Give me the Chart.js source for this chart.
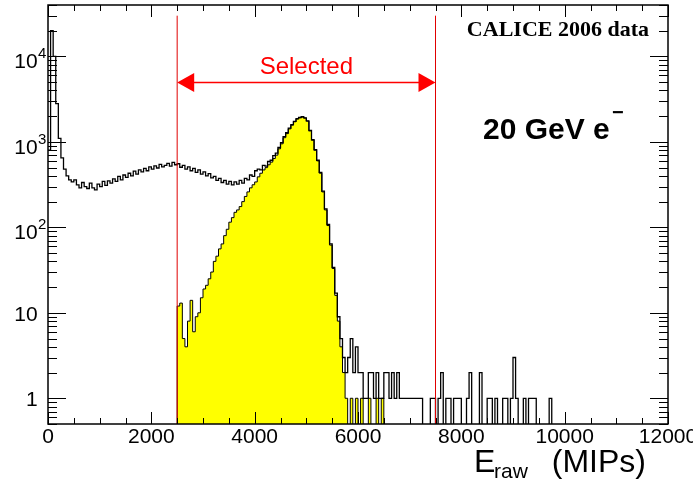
<!DOCTYPE html>
<html>
<head>
<meta charset="utf-8">
<script src="https://cdn.jsdelivr.net/npm/chart.js@4.4.0/dist/chart.umd.min.js"></script>
<style>
  html, body { margin:0; padding:0; background:#fff; }
  canvas { display:block; }
</style>
</head>
<body>
<canvas id="chart" width="693" height="485"></canvas>
<script>
// raw energy sum, 20 GeV electrons - all events vs selected (yellow)
const binWidth = 50;   // MIPs per bin, 0..12000

// all events, one entry per 50-MIP bin
const allCounts = [
  800,20000,10000,2800,1100,650,480,400,360,340,
  360,315,290,335,300,285,330,290,275,320,
  300,345,310,350,330,370,345,395,360,410,
  385,430,400,455,420,470,445,490,460,510,
  480,525,495,545,510,530,560,520,575,540,
  555,505,530,480,510,460,490,440,470,420,
  445,400,425,380,395,355,375,335,355,320,
  345,315,340,320,355,330,375,360,410,395,
  460,480,470,530,520,590,610,690,740,860,
  980,1150,1280,1450,1590,1740,1870,1930,1970,1910,
  1760,1360,1060,810,610,440,265,165,108,64,
  34,17,9,5,3,2,3,5,2,4,
  2,2,1,1,2,2,1,2,1,1,
  2,2,1,2,1,2,1,1,1,1,
  1,1,1,1,1,0,0,0,1,1,
  0,1,2,0,1,1,0,1,1,1,
  0,0,1,2,0,0,0,2,0,0,
  1,1,0,1,0,0,1,1,0,1,
  3,1,0,0,1,0,1,1,1,0,
  0,0,0,0,1,0,0,0,0,0
];

// selected events (2500 < E < 7500 plus electron cuts)
const selCounts = [
  0,0,0,0,0,0,0,0,0,0,
  0,0,0,0,0,0,0,0,0,0,
  0,0,0,0,0,0,0,0,0,0,
  0,0,0,0,0,0,0,0,0,0,
  0,0,0,0,0,0,0,0,0,0,
  12,13,5,4,8,14,6,9,10,15,
  19,21,25,30,40,46,56,64,80,95,
  115,130,150,160,175,200,230,260,290,315,
  340,390,430,470,500,540,580,640,700,830,
  950,1120,1250,1420,1570,1720,1850,1920,1960,1900,
  1750,1350,1050,800,600,430,260,160,105,62,
  33,16,8,4,2,1,0,1,0,1,
  0,1,0,0,1,0,0,1,0,1
];

const xTickValues = [0,2000,4000,6000,8000,10000,12000];
const yTickValues = [1,10,100,1000,10000];
const yTickBase = ['1','10','10','10','10'];
const yTickExp = ['','','2','3','4'];
const cuts = [2500,7500];
const cutTop = 30000;
const arrowLevel = 5000;

function histPoints(counts){
  const n = 240;
  const pts = [];
  for(let i=0;i<n;i++){
    const c = counts[i] || 0;
    pts.push({x:i*binWidth, y: c>0 ? c : 1e-3});
  }
  pts.push({x:n*binWidth, y:pts[n-1].y});
  return pts;
}

const sansFont = '"Liberation Sans", Arial, Helvetica, sans-serif';

const decor = {
  id:'decor',
  afterDatasetsDraw(chart){
    const {ctx, chartArea:a, scales:{x, y}} = chart;
    ctx.save();
    // arrow + label
    const ay = Math.round(y.getPixelForValue(arrowLevel)) + 0.5;
    const x1 = x.getPixelForValue(cuts[0]), x2 = x.getPixelForValue(cuts[1]);
    ctx.strokeStyle = '#ff0000'; ctx.fillStyle = '#ff0000'; ctx.lineWidth = 1.5;
    ctx.beginPath(); ctx.moveTo(x1+15, ay); ctx.lineTo(x2-15, ay); ctx.stroke();
    ctx.beginPath(); ctx.moveTo(x1, ay); ctx.lineTo(x1+17, ay-9.5); ctx.lineTo(x1+17, ay+9.5); ctx.closePath(); ctx.fill();
    ctx.beginPath(); ctx.moveTo(x2, ay); ctx.lineTo(x2-17, ay-9.5); ctx.lineTo(x2-17, ay+9.5); ctx.closePath(); ctx.fill();
    ctx.font = '24px ' + sansFont; ctx.textAlign = 'center'; ctx.textBaseline = 'alphabetic';
    ctx.fillText('Selected', (x1+x2)/2, ay-9);
    ctx.restore();
  },
  afterDraw(chart){
    const {ctx, chartArea:a, scales:{x, y}} = chart;
    ctx.save();
    ctx.strokeStyle = '#000'; ctx.fillStyle = '#000';
    // tick marks on all four sides
    ctx.lineWidth = 1;
    ctx.beginPath();
    for(let v=0; v<=12000; v+=500){
      const px = Math.round(x.getPixelForValue(v)) + 0.5;
      const len = v % 2000 === 0 ? 12 : 6;
      ctx.moveTo(px, a.bottom); ctx.lineTo(px, a.bottom-len);
      ctx.moveTo(px, a.top); ctx.lineTo(px, a.top+len);
    }
    for(let d=0.1; d<=10000; d*=10){
      for(let k=1;k<=9;k++){
        const v = d*k;
        if(v < y.min || v > y.max) continue;
        const py = Math.round(y.getPixelForValue(v)) + 0.5;
        const len = k === 1 ? 18 : 9;
        ctx.moveTo(a.left, py); ctx.lineTo(a.left+len, py);
        ctx.moveTo(a.right, py); ctx.lineTo(a.right-len, py);
      }
    }
    ctx.stroke();
    // frame
    ctx.lineWidth = 1.5;
    ctx.strokeRect(a.left, a.top, a.right-a.left, a.bottom-a.top);

    // x tick labels
    ctx.font = '21px ' + sansFont; ctx.textAlign = 'center'; ctx.textBaseline = 'alphabetic';
    xTickValues.forEach(v => ctx.fillText(String(v), x.getPixelForValue(v), a.bottom+19));

    // y tick labels
    yTickValues.forEach((v,i) => {
      const py = y.getPixelForValue(v);
      ctx.font = '21px ' + sansFont; ctx.textAlign = 'left';
      const base = yTickBase[i];
      const m = ctx.measureText(base);
      if(yTickExp[i]){
        ctx.fillText(base, 37 - m.actualBoundingBoxRight, py+12);
        ctx.font = '15px ' + sansFont;
        ctx.fillText(yTickExp[i], 38, py+2);
      } else {
        ctx.fillText(base, 37 - m.actualBoundingBoxRight, py+8);
      }
    });

    // x axis title: E_raw (MIPs)
    ctx.textAlign = 'left';
    ctx.font = '32px ' + sansFont;
    ctx.fillText('E', 474, 472);
    ctx.font = '21px ' + sansFont;
    ctx.fillText('raw', 494, 478);
    ctx.font = '32px ' + sansFont; ctx.textAlign = 'right';
    ctx.fillText('(MIPs)', 646, 472);

    // annotations
    ctx.font = 'bold 22px "Liberation Serif", "Times New Roman", serif'; ctx.textAlign = 'right';
    ctx.fillText('CALICE 2006 data', 649, 36);
    ctx.font = 'bold 30px ' + sansFont; ctx.textAlign = 'left';
    ctx.fillText('20 GeV e', 483, 139);
    ctx.font = 'bold 20px ' + sansFont;
    ctx.fillText('\u2212', 612, 119);
    ctx.restore();
  }
};

const ctx = document.getElementById('chart').getContext('2d');
const chart = new Chart(ctx, {
  type:'line',
  data:{
    datasets:[
      {label:'cut low', data:[{x:cuts[0],y:0.01},{x:cuts[0],y:cutTop}], borderColor:'#e00000', borderWidth:1, pointRadius:0, order:-1},
      {label:'cut high', data:[{x:cuts[1],y:0.01},{x:cuts[1],y:cutTop}], borderColor:'#e00000', borderWidth:1, pointRadius:0, order:-1},
      {label:'all', data:histPoints(allCounts), stepped:true, borderColor:'#000', borderWidth:1.3, pointRadius:0, fill:false, order:0},
      {label:'selected', data:histPoints(selCounts), stepped:true, borderColor:'#000', borderWidth:1, backgroundColor:'#ffff00', pointRadius:0, fill:'start', order:1}
    ]
  },
  options:{
    responsive:false,
    animation:false,
    devicePixelRatio:1,
    layout:{padding:{top:5, right:25, left:0, bottom:0}},
    plugins:{legend:{display:false}, tooltip:{enabled:false}},
    scales:{
      x:{type:'linear', min:0, max:12000, grid:{display:false}, border:{display:false}, ticks:{display:false},
         afterFit: s => { s.height = 61; }},
      y:{type:'logarithmic', min:0.5, max:40000, grid:{display:false}, border:{display:false}, ticks:{display:false},
         afterFit: s => { s.width = 48; }}
    }
  },
  plugins:[decor]
});
</script>
</body>
</html>
